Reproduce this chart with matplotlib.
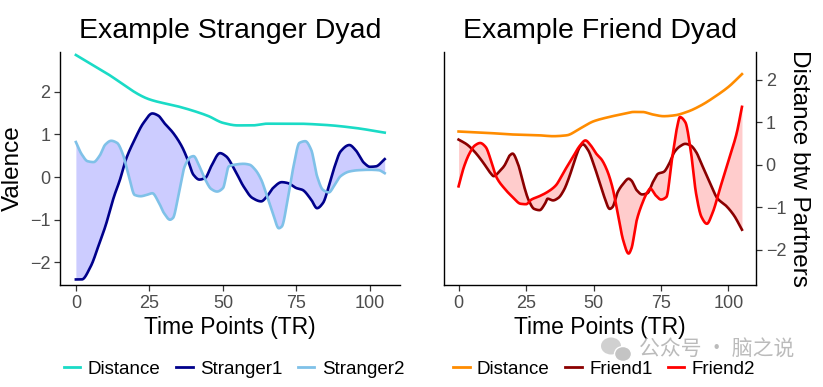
import matplotlib
matplotlib.use("Agg")
import matplotlib.pyplot as plt
from matplotlib.lines import Line2D
from matplotlib.patches import Ellipse
import numpy as np

plt.rcParams['font.family'] = ['Liberation Sans', 'DejaVu Sans']

# ---------------- data ----------------
s_t = [0, 2, 5, 8, 10, 13, 15, 17, 20, 23, 26, 28, 30, 33, 36, 38, 40, 42, 44, 46, 49, 51, 54, 57, 60,
       63, 65, 67, 70, 72, 75, 77, 80, 82, 84, 86, 88, 90, 93, 95, 98, 100, 102, 105]
stranger1 = [-2.4, -2.4, -2.1, -1.55, -1.16, -0.45, -0.06, 0.41, 0.88, 1.27, 1.49, 1.44, 1.27, 1.04, 0.72,
             0.41, 0.05, -0.06, -0.02, 0.25, 0.56, 0.49, 0.17, -0.22, -0.49, -0.57, -0.45, -0.26, -0.12,
             -0.14, -0.26, -0.3, -0.53, -0.73, -0.61, -0.22, 0.25, 0.6, 0.75, 0.64, 0.33, 0.24, 0.25, 0.42]

s2_t = [0, 2, 4, 6, 8, 10, 12, 14, 16, 18, 20, 22, 24, 26, 28, 30, 32, 33, 35, 37, 39, 40, 42, 44, 46, 48,
        50, 52, 54, 57, 59, 61, 63, 65, 67, 69, 70, 72, 74, 76, 78, 80, 82, 84, 86, 88, 90, 93, 96, 100,
        103, 105]
stranger2 = [0.82, 0.53, 0.37, 0.35, 0.49, 0.76, 0.85, 0.8, 0.53, 0.02, -0.42, -0.45, -0.42, -0.38, -0.57,
             -0.85, -1.0, -0.96, -0.38, 0.25, 0.47, 0.49, 0.25, -0.06, -0.28, -0.34, -0.26, 0.25, 0.29,
             0.31, 0.29, 0.17, -0.06, -0.45, -0.85, -1.2, -1.16, -0.53, 0.25, 0.8, 0.84, 0.64, 0.02, -0.3,
             -0.36, -0.18, 0.02, 0.13, 0.16, 0.17, 0.16, 0.09]

sd_t = [0, 10, 25, 35, 40, 45, 50, 55, 60, 65, 75, 85, 95, 105]
stranger_dist = [2.86, 2.45, 1.82, 1.65, 1.55, 1.43, 1.27, 1.21, 1.21, 1.25, 1.25, 1.22, 1.15, 1.04]

f1_t = [0, 3, 6, 9, 12, 13, 15, 17, 19, 20, 22, 24, 26, 28, 30, 32, 33, 35, 37, 39, 41, 43, 45, 46, 48,
        50, 52, 54, 56, 57, 59, 61, 63, 64, 66, 68, 70, 72, 74, 76, 78, 80, 82, 84, 86, 88, 90, 93, 96,
        99, 102, 105]
friend1 = [0.59, 0.48, 0.3, 0.06, -0.21, -0.27, -0.17, -0.02, 0.22, 0.26, 0.02, -0.45, -0.84, -1.04, -1.07,
           -0.92, -0.8, -0.84, -0.78, -0.6, -0.29, 0.1, 0.42, 0.48, 0.34, 0.02, -0.37, -0.76, -1.04, -1.0,
           -0.64, -0.45, -0.33, -0.37, -0.6, -0.7, -0.67, -0.41, -0.21, -0.17, 0.02, 0.3, 0.43, 0.49, 0.45,
           0.3, 0.02, -0.41, -0.8, -0.96, -1.19, -1.53]

f2_t = [0, 2, 4, 6, 8, 10, 12, 14, 17, 20, 23, 25, 27, 30, 33, 36, 39, 42, 45, 47, 49, 51, 53, 55, 57,
        59, 61, 63, 64, 66, 68, 70, 71, 73, 75, 77, 79, 81, 82, 84, 86, 88, 90, 92, 94, 97, 100, 103, 105]
friend2 = [-0.51, -0.05, 0.26, 0.45, 0.51, 0.42, 0.1, -0.29, -0.56, -0.76, -0.92, -0.93, -0.82, -0.74,
           -0.64, -0.49, -0.17, 0.14, 0.45, 0.57, 0.45, 0.26, 0.12, -0.13, -0.53, -1.15, -1.78, -2.09,
           -1.98, -1.31, -0.92, -0.64, -0.56, -0.72, -0.82, -0.76, 0.1, 0.89, 1.12, 1.0, 0.34, -0.68,
           -1.23, -1.39, -1.15, -0.53, 0.1, 0.73, 1.36]

fd_t = [0, 10, 20, 30, 35, 40, 45, 50, 55, 60, 65, 68, 72, 76, 80, 85, 90, 95, 100, 105]
friend_dist = [0.78, 0.75, 0.71, 0.69, 0.67, 0.69, 0.85, 1.02, 1.11, 1.18, 1.24, 1.24, 1.18, 1.14, 1.16,
               1.25, 1.4, 1.6, 1.83, 2.13]

x_ticks = [0, 25, 50, 75, 100]
y_ticks = [-2, -1, 0, 1, 2]
titles = ["Example Stranger Dyad", "Example Friend Dyad"]
legend_left = ["Distance", "Stranger1", "Stranger2"]
legend_right = ["Distance", "Friend1", "Friend2"]
watermark = "公众号 · 脑之说"

# ---------------- helpers ----------------
tt = np.linspace(0, 105, 2101)


def smooth(t, v):
    """Monotone cubic (Fritsch-Carlson) interpolation of the read points onto tt."""
    x = np.asarray(t, float)
    y = np.asarray(v, float)
    h = np.diff(x)
    dlt = np.diff(y) / h
    m = np.zeros_like(y)
    m[0], m[-1] = dlt[0], dlt[-1]
    for k in range(1, len(y) - 1):
        if dlt[k - 1] * dlt[k] <= 0:
            m[k] = 0.0
        else:
            w1 = 2 * h[k] + h[k - 1]
            w2 = h[k] + 2 * h[k - 1]
            m[k] = (w1 + w2) / (w1 / dlt[k - 1] + w2 / dlt[k])
    idx = np.clip(np.searchsorted(x, tt) - 1, 0, len(x) - 2)
    hk = h[idx]
    s = (tt - x[idx]) / hk
    h00 = 2 * s**3 - 3 * s**2 + 1
    h10 = s**3 - 2 * s**2 + s
    h01 = -2 * s**3 + 3 * s**2
    h11 = s**3 - s**2
    return h00 * y[idx] + h10 * hk * m[idx] + h01 * y[idx + 1] + h11 * hk * m[idx + 1]


# ---------------- plotting ----------------
W, H = 823, 387
fig = plt.figure(figsize=(W / 100, H / 100), dpi=100)


def fx(px):
    return px / W


def fy(py):
    return 1 - py / H


axL = fig.add_axes([fx(60), fy(285), fx(400) - fx(60), fy(52) - fy(285)])
axR = fig.add_axes([fx(444), fy(285), fx(756) - fx(444), fy(52) - fy(285)])

lw = 1.9
c_sd, c_s1, c_s2 = '#1ADBC6', '#00008B', '#7FC1E8'
c_fd, c_f1, c_f2 = '#FF8C00', '#8B0000', '#FF0000'

# Left
a = smooth(s_t, stranger1)
b = smooth(s2_t, stranger2)
axL.fill_between(tt, a, b, color='#CCCCFF', lw=0)
axL.plot(tt, smooth(sd_t, stranger_dist), color=c_sd, lw=lw)
axL.plot(tt, a, color=c_s1, lw=lw)
axL.plot(tt, b, color=c_s2, lw=lw)
axL.set_xlim(-5.4, 110.2)
axL.set_ylim(-2.53, 2.93)

# Right
c = smooth(f1_t, friend1)
d = smooth(f2_t, friend2)
axR.fill_between(tt, c, d, color='#FFCCCC', lw=0)
axR.plot(tt, smooth(fd_t, friend_dist), color=c_fd, lw=lw)
axR.plot(tt, c, color=c_f1, lw=lw)
axR.plot(tt, d, color=c_f2, lw=lw)
axR.set_xlim(-5.4, 110.2)
axR.set_ylim(-2.83, 2.65)
axR.yaxis.tick_right()
axR.yaxis.set_label_position('right')

for ax, title in zip([axL, axR], titles):
    ax.set_xticks(x_ticks)
    ax.set_yticks(y_ticks)
    ax.spines['top'].set_visible(False)
    for s in ['left', 'bottom', 'right']:
        ax.spines[s].set_linewidth(1.0)
        ax.spines[s].set_color('black')
    ax.tick_params(axis='both', length=4, width=0.9, color='#333333',
                   labelsize=13, labelcolor='#4D4D4D', pad=3)
    ax.set_title(title, fontsize=20.5, pad=10)
    ax.set_xlabel("Time Points (TR)", fontsize=16.5, labelpad=3)

axL.spines['right'].set_visible(False)
axL.set_ylabel("Valence", fontsize=17.5, labelpad=4)
axR.set_ylabel("Distance btw Partners", fontsize=17.5, rotation=270, labelpad=17)

hl = [Line2D([], [], color=col, lw=2) for col in (c_sd, c_s1, c_s2)]
hr = [Line2D([], [], color=col, lw=2) for col in (c_fd, c_f1, c_f2)]
fig.legend(hl, legend_left, loc='center', bbox_to_anchor=(fx(234), fy(369)),
           ncol=3, frameon=False, fontsize=13.5, handlelength=0.9, handletextpad=0.4, columnspacing=0.8)
fig.legend(hr, legend_right, loc='center', bbox_to_anchor=(fx(604), fy(369)),
           ncol=3, frameon=False, fontsize=13.5, handlelength=0.9, handletextpad=0.4, columnspacing=0.8)

# watermark (icon approximated with two bubbles) and text
fig.patches.append(Ellipse((fx(611), fy(346)), fx(20) - fx(0), fy(0) - fy(17), transform=fig.transFigure,
                           facecolor='#D0D0D0', edgecolor='none', zorder=5))
fig.patches.append(Ellipse((fx(623), fy(354)), fx(17) - fx(0), fy(0) - fy(15), transform=fig.transFigure,
                           facecolor='#C4C4C4', edgecolor='white', lw=1, zorder=6))
fig.text(fx(717), fy(350), watermark, fontsize=15, color='#BBBBBB', ha='center', va='center',
         family=['Noto Sans CJK SC', 'DejaVu Sans'])

fig.savefig("out.png", dpi=100)
